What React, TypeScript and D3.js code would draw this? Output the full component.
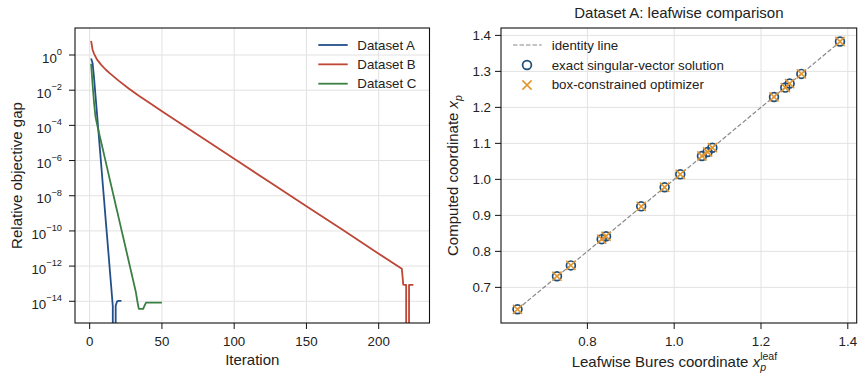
import React from 'react';
import * as d3 from 'd3';

// ---------- Left panel data (relative objective gap per iteration) ----------
const iterationsA = [1, 2, 3, 4, 5, 6, 7, 8, 9, 10, 11, 12, 13, 14, 15, 16, 17, 18, 19, 20, 21, 22];
const gapA = [0.63, 0.355, 5.4e-2, 5.2e-3, 5.5e-4, 5.3e-5, 5.4e-6, 5.5e-7, 5.3e-8, 5.4e-9, 5.2e-10, 5.4e-11, 5.5e-12, 5.3e-13, 5.4e-14, 5.4e-15, 0, 5.6e-15, 1.0e-14, 1.05e-14, 1.05e-14, 1.05e-14];

const iterationsB = [1, 2, 3, 5, 8, 11, 14, 20, 27, 34, 40, 50, 60, 80, 100, 125, 150, 175, 200, 216, 217, 218, 219, 220, 221, 222, 223, 224];
const gapB = [6.3, 2.0, 1.2, 0.56, 0.275, 0.15, 0.091, 0.035, 1.26e-2, 4.8e-3, 2.24e-3, 6.3e-4, 1.82e-4, 1.5e-5, 1.26e-6, 5.6e-8, 2.5e-9, 1.15e-10, 5.1e-12, 7.1e-13, 8.9e-14, 8.5e-14, 8.5e-14, 0, 8.5e-14, 8.5e-14, 8.5e-14, 8.5e-14];

const iterationsC = [1, 2, 3, 4, 5, 6, 7, 8, 9, 10, 11, 12, 13, 14, 15, 16, 17, 18, 19, 20, 21, 22, 23, 24, 25, 26, 27, 28, 29, 30, 31, 32, 33, 34, 35, 36, 37, 38, 39, 40, 41, 42, 43, 44, 45, 46, 47, 48, 49, 50];
const gapC = [0.32, 2.2e-2, 2.0e-3, 3.2e-4, 1.26e-4, 5.5e-5, 2.45e-5, 1.07e-5, 4.8e-6, 2.1e-6, 9.3e-7, 4.1e-7, 1.8e-7, 7.9e-8, 3.5e-8, 1.55e-8, 6.9e-9, 3.0e-9, 1.35e-9, 5.9e-10, 2.6e-10, 1.15e-10, 5.1e-11, 2.25e-11, 1.0e-11, 4.4e-12, 1.95e-12, 8.5e-13, 3.8e-13, 1.66e-13, 7.4e-14, 3.2e-14, 1.0e-14, 3.7e-15, 3.7e-15, 3.7e-15, 3.7e-15, 5.6e-15, 8.5e-15, 8.5e-15, 8.5e-15, 8.5e-15, 8.5e-15, 8.5e-15, 8.5e-15, 8.5e-15, 8.5e-15, 8.5e-15, 8.5e-15, 8.5e-15];

const seriesNames = ['Dataset A', 'Dataset B', 'Dataset C'];
const seriesColors = ['#24508a', '#bd4636', '#3b8043'];

const iterTicks = [0, 50, 100, 150, 200];
const gapTickExponents = [0, -2, -4, -6, -8, -10, -12, -14];

// ---------- Right panel data (leafwise comparison) ----------
const leafwiseCoord = [0.639, 0.730, 0.762, 0.833, 0.843, 0.924, 0.978, 1.014, 1.064, 1.077, 1.088, 1.230, 1.256, 1.266, 1.293, 1.382];
const exactSolution = [0.639, 0.731, 0.761, 0.834, 0.842, 0.925, 0.978, 1.014, 1.065, 1.076, 1.088, 1.229, 1.255, 1.266, 1.293, 1.383];
const boxOptimizer = [0.639, 0.731, 0.761, 0.834, 0.842, 0.925, 0.978, 1.014, 1.065, 1.076, 1.088, 1.229, 1.255, 1.266, 1.293, 1.383];
const coordXTicks = [0.8, 1.0, 1.2, 1.4];
const coordYTicks = [0.7, 0.8, 0.9, 1.0, 1.1, 1.2, 1.3, 1.4];

const FONT = '"Liberation Sans", Arial, Helvetica, sans-serif';
const GRID = '#e2e2e2';
const TICK_FS = 13.3;
const LABEL_FS = 15;

export default function App() {
  // Left axes geometry
  const L = { left: 75, right: 429.5, top: 28, bottom: 323 };
  const xL = d3.scaleLinear().domain([-10.15, 235.15]).range([L.left, L.right]);
  const yL = d3.scaleLog().domain([Math.pow(10, -15.234), Math.pow(10, 1.535)]).range([L.bottom, L.top]);

  // Right axes geometry
  const R = { left: 501, right: 856.7, top: 28, bottom: 323 };
  const xR = d3.scaleLinear().domain([0.601, 1.4205]).range([R.left, R.right]);
  const yR = d3.scaleLinear().domain([0.601, 1.4205]).range([R.bottom, R.top]);

  const series = [
    { it: iterationsA, v: gapA },
    { it: iterationsB, v: gapB },
    { it: iterationsC, v: gapC },
  ];
  const line = d3
    .line<[number, number]>()
    .x((d) => xL(d[0]))
    .y((d) => yL(d[1] > 0 ? d[1] : 1e-300));

  const idMin = d3.min(leafwiseCoord) as number;
  const idMax = d3.max(leafwiseCoord) as number;

  const xMark = (cx: number, cy: number, s: number) =>
    `M${cx - s},${cy - s}L${cx + s},${cy + s}M${cx - s},${cy + s}L${cx + s},${cy - s}`;

  return (
    <svg
      width={860}
      height={379}
      style={{ position: 'absolute', left: 0, top: 0, display: 'block', background: '#fff' }}
      fontFamily={FONT}
    >
      <defs>
        <clipPath id="clipL">
          <rect x={L.left} y={L.top} width={L.right - L.left} height={L.bottom - L.top} />
        </clipPath>
        <clipPath id="clipR">
          <rect x={R.left} y={R.top} width={R.right - R.left} height={R.bottom - R.top} />
        </clipPath>
      </defs>
      <rect x={0} y={0} width={860} height={379} fill="#fff" />

      {/* ---------------- LEFT PANEL ---------------- */}
      <g>
        {iterTicks.map((t) => (
          <line key={'gx' + t} x1={xL(t)} x2={xL(t)} y1={L.top} y2={L.bottom} stroke={GRID} strokeWidth={1} />
        ))}
        {gapTickExponents.map((e) => (
          <line key={'gy' + e} x1={L.left} x2={L.right} y1={yL(Math.pow(10, e))} y2={yL(Math.pow(10, e))} stroke={GRID} strokeWidth={1} />
        ))}
        <g clipPath="url(#clipL)">
          {series.map((s, i) => (
            <path
              key={seriesNames[i]}
              d={line(s.it.map((it, k) => [it, s.v[k]] as [number, number])) || ''}
              fill="none"
              stroke={seriesColors[i]}
              strokeWidth={1.8}
              strokeLinejoin="round"
            />
          ))}
        </g>
        <rect x={L.left} y={L.top} width={L.right - L.left} height={L.bottom - L.top} fill="none" stroke="#111" strokeWidth={1.1} />
        {iterTicks.map((t) => (
          <g key={'tx' + t}>
            <line x1={xL(t)} x2={xL(t)} y1={L.bottom} y2={L.bottom + 6} stroke="#111" strokeWidth={1} />
            <text x={xL(t)} y={346} textAnchor="middle" fontSize={TICK_FS} fill="#222">{t}</text>
          </g>
        ))}
        {gapTickExponents.map((e) => {
          const y = yL(Math.pow(10, e));
          return (
            <g key={'ty' + e}>
              <line x1={L.left - 6} x2={L.left} y1={y} y2={y} stroke="#111" strokeWidth={1} />
              <text x={62} y={y + 7.7} textAnchor="end" fontSize={TICK_FS} fill="#222">
                10
                <tspan dy={-7.7} fontSize={9.3}>{e === 0 ? '0' : '\u2212' + Math.abs(e)}</tspan>
              </text>
            </g>
          );
        })}
        <text x={(L.left + L.right) / 2} y={365} textAnchor="middle" fontSize={LABEL_FS} fill="#222">Iteration</text>
        <text transform={`translate(17,${(L.top + L.bottom) / 2}) rotate(-90)`} dy="0.35em" textAnchor="middle" fontSize={LABEL_FS} fill="#222">
          Relative objective gap
        </text>
        {/* legend */}
        {seriesNames.map((n, i) => {
          const y = 45 + i * 19.35;
          return (
            <g key={'lg' + n}>
              <line x1={318.3} x2={347.7} y1={y} y2={y} stroke={seriesColors[i]} strokeWidth={1.8} />
              <text x={357.3} y={y} dy="0.35em" fontSize={TICK_FS} fill="#222">{n}</text>
            </g>
          );
        })}
      </g>

      {/* ---------------- RIGHT PANEL ---------------- */}
      <g>
        {coordXTicks.map((t) => (
          <line key={'rgx' + t} x1={xR(t)} x2={xR(t)} y1={R.top} y2={R.bottom} stroke={GRID} strokeWidth={1} />
        ))}
        {coordYTicks.map((t) => (
          <line key={'rgy' + t} x1={R.left} x2={R.right} y1={yR(t)} y2={yR(t)} stroke={GRID} strokeWidth={1} />
        ))}
        <g clipPath="url(#clipR)">
          <line x1={xR(idMin)} y1={yR(idMin)} x2={xR(idMax)} y2={yR(idMax)} stroke="#888" strokeWidth={1.2} strokeDasharray="4.5,2" />
          {leafwiseCoord.map((x, i) => (
            <circle key={'c' + i} cx={xR(x)} cy={yR(exactSolution[i])} r={4.4} fill="none" stroke="#1f4e79" strokeWidth={1.7} />
          ))}
          {leafwiseCoord.map((x, i) => (
            <path key={'x' + i} d={xMark(xR(x), yR(boxOptimizer[i]), 4.6)} stroke="#e3962f" strokeWidth={1.6} fill="none" />
          ))}
        </g>
        <rect x={R.left} y={R.top} width={R.right - R.left} height={R.bottom - R.top} fill="none" stroke="#111" strokeWidth={1.1} />
        {coordXTicks.map((t) => (
          <g key={'rtx' + t}>
            <line x1={xR(t)} x2={xR(t)} y1={R.bottom} y2={R.bottom + 6} stroke="#111" strokeWidth={1} />
            <text x={xR(t)} y={346} textAnchor="middle" fontSize={TICK_FS} fill="#222">{t.toFixed(1)}</text>
          </g>
        ))}
        {coordYTicks.map((t) => (
          <g key={'rty' + t}>
            <line x1={R.left - 6} x2={R.left} y1={yR(t)} y2={yR(t)} stroke="#111" strokeWidth={1} />
            <text x={491} y={yR(t)} dy="0.35em" textAnchor="end" fontSize={TICK_FS} fill="#222">{t.toFixed(1)}</text>
          </g>
        ))}
        <text x={(R.left + R.right) / 2} y={18} textAnchor="middle" fontSize={LABEL_FS} fill="#222">
          Dataset A: leafwise comparison
        </text>
        <text x={571.7} y={367} fontSize={LABEL_FS} fill="#222">
          Leafwise Bures coordinate{' '}
          <tspan fontStyle="italic">x</tspan>
          <tspan dy={-7} fontSize={10.5}>leaf</tspan>
          <tspan dx={-16.9} dy={11} fontSize={10.5} fontStyle="italic">p</tspan>
        </text>
        <text transform={`translate(453,${(R.top + R.bottom) / 2}) rotate(-90)`} dy="0.35em" textAnchor="middle" fontSize={LABEL_FS} fill="#222">
          Computed coordinate <tspan fontStyle="italic">x</tspan>
          <tspan dy={3.5} fontSize={10.5} fontStyle="italic">p</tspan>
        </text>
        {/* legend */}
        <line x1={513} x2={541.7} y1={45} y2={45} stroke="#888" strokeWidth={1.2} strokeDasharray="4.5,2" />
        <text x={551.7} y={45} dy="0.35em" fontSize={TICK_FS} fill="#222">identity line</text>
        <circle cx={527} cy={65} r={4.4} fill="none" stroke="#1f4e79" strokeWidth={1.7} />
        <text x={551.7} y={65} dy="0.35em" fontSize={TICK_FS} fill="#222">exact singular-vector solution</text>
        <path d={xMark(527, 85, 4.6)} stroke="#e3962f" strokeWidth={1.6} fill="none" />
        <text x={551.7} y={84.5} dy="0.35em" fontSize={TICK_FS} fill="#222">box-constrained optimizer</text>
      </g>
    </svg>
  );
}
